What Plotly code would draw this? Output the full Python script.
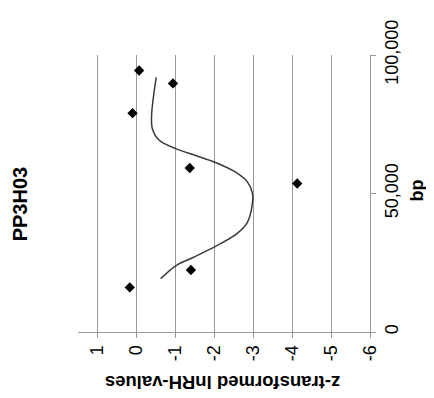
import plotly.graph_objects as go

# Data (original chart: x = bp position, y = z-transformed lnRH value)
point_bp = [16100, 22400, 53600, 59200, 79000, 89750, 94400]
point_z = [0.17, -1.40, -4.13, -1.37, 0.10, -0.94, -0.07]

curve_bp = [19200, 23900, 26800, 30900, 35600, 39600, 45450, 50100, 54200,
            57700, 61200, 63700, 66200, 69300, 73400, 78100, 86200, 91900]
curve_z = [-0.62, -1.01, -1.44, -2.03, -2.59, -2.85, -2.97, -2.98, -2.85,
           -2.55, -2.03, -1.52, -1.01, -0.58, -0.41, -0.39, -0.45, -0.51]

z_ticks = [1, 0, -1, -2, -3, -4, -5, -6]
z_ticklabels = ["1", "0", "-1", "-2", "-3", "-4", "-5", "-6"]
bp_ticks = [0, 50000, 100000]
bp_ticklabels = ["0", "50,000", "100,000"]

title_text = "PP3H03"
x_title = "bp"
y_title = "z-transformed lnRH-values"

FONT = "Liberation Sans, Arial, sans-serif"

fig = go.Figure()
# Chart is drawn rotated 90° counter-clockwise: z values run horizontally,
# bp runs vertically.
fig.add_trace(go.Scatter(x=curve_z, y=curve_bp, mode="lines",
                         line=dict(color="#3a3a3a", width=1.5, shape="spline"),
                         showlegend=False, hoverinfo="skip"))
fig.add_trace(go.Scatter(x=point_z, y=point_bp, mode="markers",
                         marker=dict(symbol="diamond", size=8, color="black"),
                         showlegend=False))

ann = dict(xref="paper", yref="paper", showarrow=False,
           xanchor="center", yanchor="middle")

fig.update_layout(
    width=434, height=398,
    margin=dict(l=69.5, r=72, t=38, b=74),
    paper_bgcolor="white", plot_bgcolor="white",
    font=dict(family=FONT, color="black", size=18),
    xaxis=dict(range=[1.5, -6], tickvals=z_ticks, ticktext=z_ticklabels,
               tickangle=-90, showgrid=True, gridcolor="#9a9a9a", gridwidth=1.3,
               showline=True, linecolor="#9a9a9a", linewidth=1.3,
               ticks="outside", ticklen=5, tickcolor="#9a9a9a",
               zeroline=False, tickfont=dict(size=18)),
    yaxis=dict(range=[0, 100000], side="right", tickvals=bp_ticks,
               ticktext=bp_ticklabels, tickangle=-90, showgrid=False,
               showline=True, linecolor="#9a9a9a", linewidth=1.3,
               ticks="outside", ticklen=5, tickcolor="#9a9a9a",
               zeroline=False, tickfont=dict(size=18)),
    annotations=[
        dict(text="<b>" + title_text + "</b>", x=-0.2, y=0.463,
             textangle=-90, font=dict(size=20), **ann),
        dict(text="<b>" + x_title + "</b>", x=1.16, y=0.51,
             textangle=-90, font=dict(size=18), **ann),
        dict(text="<b>" + y_title + "</b>", x=0.497, y=-0.185,
             textangle=180, font=dict(size=18.5), **ann),
    ],
)

fig.write_html("out.html")
